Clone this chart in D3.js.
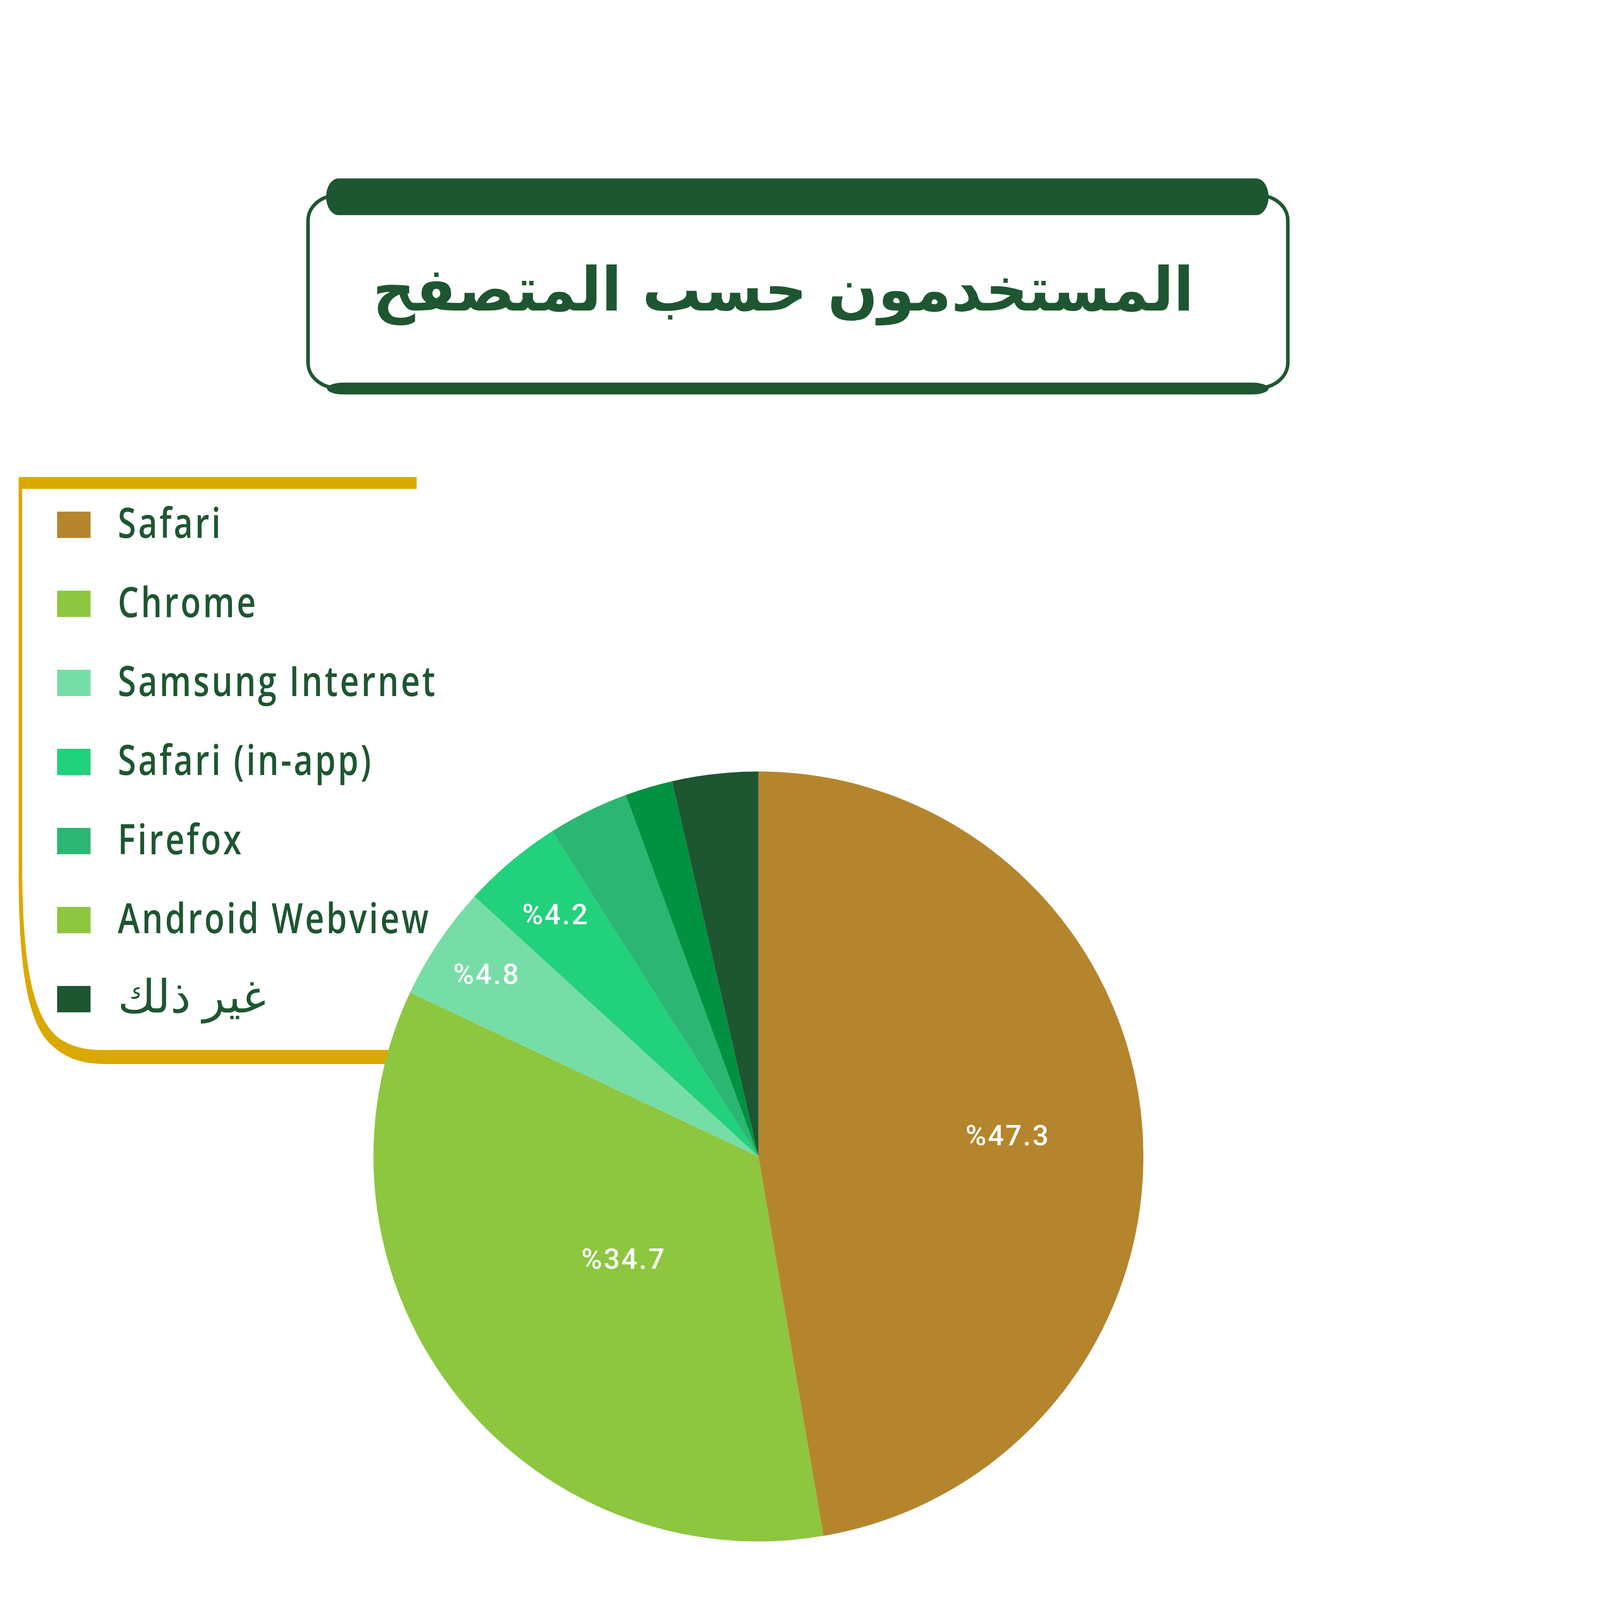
<!DOCTYPE html>
<html><head><meta charset="utf-8">
<script src="https://cdn.jsdelivr.net/npm/d3@7/dist/d3.min.js"></script>
<style>html,body{margin:0;padding:0;background:#fff;overflow:hidden;width:100%;height:100%;} svg{display:block;width:100vw;height:100vh}</style>
</head><body>
<svg id="chart" viewBox="0 0 5132 5407" preserveAspectRatio="xMinYMin meet"></svg>
<script>
// ---- data ----
const titleText = "المستخدمون حسب المتصفح";
const categories = ["Safari", "Chrome", "Samsung Internet", "Safari (in-app)", "Firefox", "Android Webview", "غير ذلك"];
const values = [47.3, 34.7, 4.8, 4.2, 3.4, 2.0, 3.6];
const sliceColors = ["#B5852D", "#8DC63F", "#77DDA7", "#22D17B", "#2BB673", "#009241", "#1D5631"];
const legendColors = ["#B5852D", "#8DC63F", "#77DDA7", "#22D17B", "#2BB673", "#8DC63F", "#1D5631"];
// label placement (fraction of radius) for labelled slices
const labelRadius = [0.65, 0.44, 0.85, 0.82, 0, 0, 0];
const minLabel = 4;

const DARK = "#1E5631", GOLD = "#DAA900";
const svg = d3.select("#chart");

// ---- title box ----
const tb = svg.append("g");
tb.append("rect").attr("x", 1041).attr("y", 660).attr("width", 3311).attr("height", 651)
  .attr("rx", 100).attr("ry", 85).attr("fill", "none").attr("stroke", DARK).attr("stroke-width", 12);
tb.append("rect").attr("x", 1102).attr("y", 603).attr("width", 3185).attr("height", 124)
  .attr("rx", 42).attr("ry", 62).attr("fill", DARK);
tb.append("rect").attr("x", 1105).attr("y", 1293).attr("width", 3182).attr("height", 40)
  .attr("rx", 55).attr("ry", 20).attr("fill", DARK);
const tcx = 2647;
const tt = tb.append("text").attr("x", tcx).attr("y", 1049)
  .attr("text-anchor", "middle").attr("font-family", "'DejaVu Sans', 'Noto Sans', sans-serif")
  .attr("font-weight", 700).attr("font-size", 205).attr("fill", DARK).text(titleText);
const tbb = tt.node().getBBox();
const tsx = 2775 / tbb.width;
tt.attr("transform", `translate(${tcx},0) scale(${tsx},1) translate(${-tcx},0)`);

// ---- legend frame ----
const lg = svg.append("g");
lg.append("path").attr("fill", GOLD).attr("d",
  "M1408,1612 L63,1612 L63,2950 C63,3300 100,3460 170,3528 C230,3585 290,3597 380,3596 " +
  "L1500,3596 L1500,3548 L360,3548 C300,3550 240,3540 195,3505 C120,3440 78,3300 75,2950 " +
  "L75,1652 L1408,1652 Z");

const rowY = d3.scaleLinear().domain([0, categories.length - 1]).range([1729, 3332]);
const swW = 113, swH = 89;
const isArabic = s => /[\u0600-\u06FF]/.test(s);
const items = lg.selectAll("g.item").data(categories).join("g").attr("class", "item");
items.append("rect").attr("x", 193).attr("y", (d, i) => rowY(i))
  .attr("width", swW).attr("height", swH).attr("fill", (d, i) => legendColors[i]);
const ltexts = items.append("text").attr("x", 398).attr("y", (d, i) => rowY(i) + swH)
  .attr("font-family", "'Open Sans', 'DejaVu Sans', sans-serif")
  .attr("font-weight", d => isArabic(d) ? 400 : 600)
  .attr("font-size", d => isArabic(d) ? 155 : 140)
  .attr("letter-spacing", d => isArabic(d) ? 0 : 9).attr("fill", DARK)
  .attr("direction", "ltr").text(d => d);
let maxW = 0;
ltexts.filter(d => !isArabic(d)).each(function () { maxW = Math.max(maxW, this.getBBox().width); });
const lsx = 1080 / maxW;
ltexts.attr("transform", d => {
  const s = isArabic(d) ? 1.0 : lsx;
  return `translate(398,0) scale(${s},1) translate(-398,0)`;
});

// ---- pie ----
const cx = 2563, cy = 3908, R = 1301;
const pie = d3.pie().sort(null).value(d => d)(values);
const arc = d3.arc().innerRadius(0).outerRadius(R);
const pg = svg.append("g").attr("transform", `translate(${cx},${cy})`);
pg.selectAll("path").data(pie).join("path").attr("d", arc).attr("fill", (d, i) => sliceColors[i]);
pg.selectAll("text").data(pie.filter(d => d.value >= minLabel)).join("text")
  .attr("transform", d => {
    const a = (d.startAngle + d.endAngle) / 2, rr = R * labelRadius[d.index];
    return `translate(${rr * Math.sin(a)},${-rr * Math.cos(a)})`;
  })
  .attr("text-anchor", "middle").attr("dy", "0.35em")
  .attr("font-family", "Roboto, 'Noto Sans', sans-serif").attr("font-size", 96)
  .attr("letter-spacing", 5)
  .attr("font-weight", 500).attr("fill", "#fff").attr("direction", "ltr")
  .text(d => "%" + d.value.toFixed(1));
</script>
</body></html>
